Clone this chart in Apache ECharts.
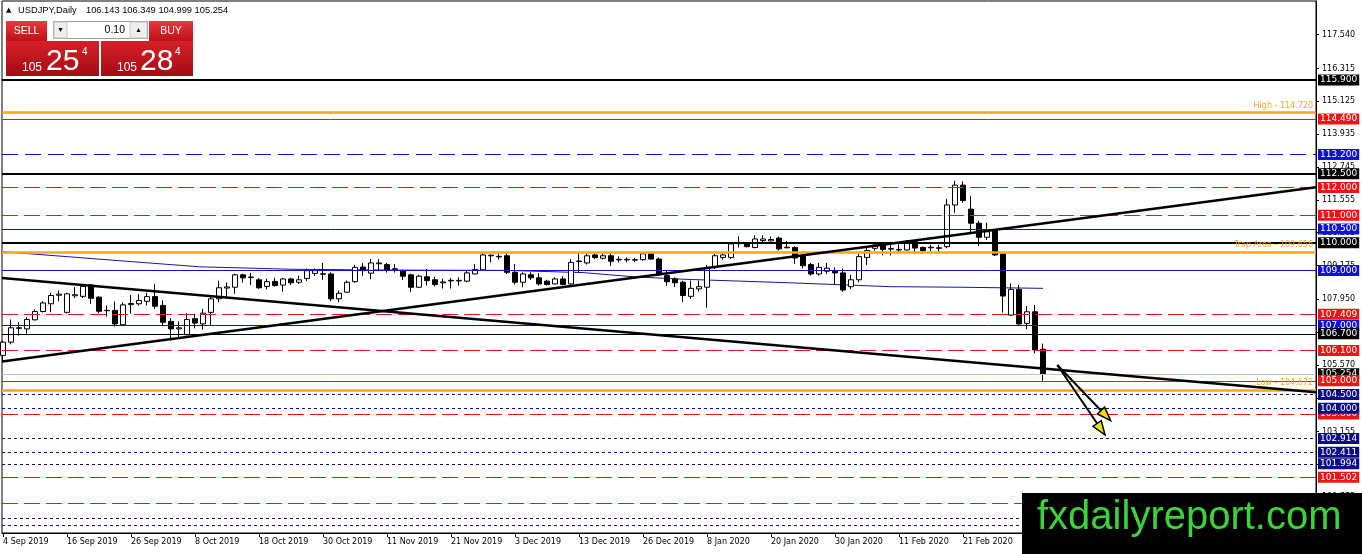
<!DOCTYPE html>
<html><head><meta charset="utf-8">
<script src="https://cdn.jsdelivr.net/npm/echarts@6/dist/echarts.min.js"></script>
<style>html,body{margin:0;padding:0;background:#fff;}#c{width:1362px;height:554px;}</style>
</head><body><div id="c"></div>
<script>
// ---------------- DATA ----------------
const symbolTitle = 'USDJPY,Daily';
const headerOHLC = ['106.143', '106.349', '104.999', '105.254'];
const bidParts = ['105', '25', '4'];
const askParts = ['105', '28', '4'];
const lotSize = '0.10';
const watermarkText = 'fxdailyreport.com';

// one candle per trading day, index 0 = 4 Sep 2019 ... index 130 = 6 Mar 2020
const opens = [105.92,106.40,106.90,106.88,107.21,107.51,107.79,108.10,107.48,108.08,108.06,108.47,108.03,107.54,107.55,107.03,107.76,107.79,107.88,108.05,107.73,107.15,106.88,106.67,107.25,107.06,107.48,107.97,108.36,108.39,108.84,108.74,108.66,108.42,108.60,108.47,108.69,108.57,108.71,108.89,108.86,108.87,107.97,108.21,108.59,109.12,108.90,109.24,109.21,109.04,108.99,108.84,108.39,108.77,108.66,108.55,108.62,108.62,108.61,108.87,109.02,109.53,109.49,109.53,108.93,108.57,108.84,108.73,108.61,108.51,108.69,108.51,109.32,109.27,109.56,109.44,109.53,109.38,109.38,109.37,109.39,109.60,109.41,108.81,108.69,108.57,108.06,108.33,108.39,109.11,109.47,109.47,109.97,109.96,109.83,110.08,110.07,110.17,109.82,109.83,109.53,109.21,108.87,108.97,108.99,108.91,108.41,108.66,109.47,109.80,109.95,109.77,109.74,109.74,110.05,109.83,109.82,109.80,109.86,111.37,112.09,111.22,110.71,110.20,110.46,109.59,107.38,108.31,107.08,107.50,106.143];
const closes = [106.40,106.92,106.92,107.22,107.51,107.82,108.09,108.14,108.15,108.12,108.42,107.99,107.52,107.55,107.06,107.75,107.80,107.91,108.05,107.70,107.12,106.88,106.92,107.22,107.09,107.45,107.97,108.37,108.40,108.84,108.73,108.76,108.37,108.59,108.45,108.69,108.55,108.66,108.99,108.99,108.88,107.97,108.17,108.57,109.11,108.99,109.27,109.27,109.02,109.06,108.79,108.39,108.79,108.63,108.49,108.58,108.64,108.64,108.91,109.03,109.56,109.55,109.51,108.93,108.57,108.87,108.73,108.51,108.49,108.69,108.49,109.29,109.34,109.53,109.47,109.53,109.33,109.40,109.40,109.39,109.60,109.41,108.84,108.59,108.55,108.09,108.35,108.41,109.11,109.53,109.56,109.96,109.99,109.86,110.14,110.14,110.12,109.78,109.84,109.45,109.17,108.87,109.11,109.08,108.91,108.29,108.66,109.50,109.72,109.92,109.76,109.79,109.76,110.05,109.81,109.72,109.84,109.82,111.37,112.09,111.53,110.71,110.20,110.40,109.56,108.07,108.31,107.06,107.50,106.12,105.254];
const lows = [105.75,106.32,106.64,106.70,107.18,107.47,107.48,107.88,107.44,108.00,108.00,107.79,107.45,107.33,106.97,106.98,107.43,107.73,107.73,107.61,107.02,106.46,106.52,106.64,106.90,106.85,106.98,107.85,107.97,108.15,108.56,108.47,108.33,108.31,108.41,108.23,108.47,108.51,108.62,108.80,108.66,107.88,107.85,108.19,108.55,108.80,108.68,108.97,108.92,108.92,108.65,108.21,108.37,108.45,108.42,108.34,108.34,108.45,108.57,108.86,108.99,109.29,109.39,108.87,108.49,108.39,108.65,108.45,108.45,108.49,108.45,108.45,108.93,109.21,109.41,109.39,109.16,109.29,109.29,109.29,109.35,109.39,108.81,108.45,108.40,107.85,107.97,108.23,107.65,109.05,109.39,109.41,109.83,109.83,109.80,110.02,110.05,109.72,109.80,109.24,109.07,108.81,108.81,108.87,108.48,108.22,108.33,108.57,109.20,109.72,109.54,109.54,109.65,109.72,109.60,109.66,109.69,109.65,109.80,111.09,111.45,110.34,109.88,110.10,109.52,107.47,107.35,107.03,106.87,105.99,104.999];
const highs = [106.45,107.22,107.12,107.30,107.58,107.88,108.19,108.27,108.19,108.39,108.46,108.51,108.06,107.73,107.87,107.84,108.11,108.14,108.19,108.51,107.91,107.27,107.15,107.45,107.43,107.61,108.03,108.63,108.56,108.88,108.88,108.91,108.72,108.70,108.73,108.73,108.73,108.81,109.06,109.07,109.27,108.93,108.27,108.63,109.20,109.26,109.41,109.41,109.27,109.23,109.02,108.88,108.84,109.05,108.77,108.70,108.72,108.75,109.00,109.23,109.66,109.58,109.66,109.62,109.23,108.93,108.93,108.90,108.66,108.75,108.79,109.41,109.62,109.62,109.62,109.62,109.62,109.51,109.47,109.45,109.62,109.62,109.47,108.99,108.75,108.62,108.63,108.63,109.20,109.60,109.66,110.00,110.23,110.02,110.27,110.27,110.23,110.23,110.07,109.88,109.60,109.27,109.27,109.27,109.11,109.07,108.84,109.60,109.84,109.98,110.00,109.98,109.94,110.10,110.11,109.87,109.93,109.93,111.58,112.25,112.23,111.70,110.80,110.73,110.49,109.64,108.53,108.47,107.71,107.75,106.349];

// moving average, read at a few bars: [bar index, price]
const maIndex = [-0.125, 14.6, 24.6, 36.25, 49.6, 63, 72.5, 78.75, 85, 98.4, 110.9, 119.6, 130];
const maValue = [109.68, 109.35, 109.13, 109.04, 109.01, 109.00, 108.92, 108.77, 108.68, 108.55, 108.41, 108.39, 108.35];

// trend lines: [bar index, price] end points
const trendFalling = [[-0.125, 108.728], [164.125, 104.58]];
const trendRising = [[-0.125, 105.702], [164.125, 112.01]];

// projection arrows: common start and two targets [bar index, price]
const arrowStart = [131.79, 105.572];
const arrowTargets = [[138.46, 103.553], [137.75, 103.035]];

// x-axis labels
const dateLabelIndex = [0, 8, 16, 24, 32, 40, 48, 56, 64, 72, 80, 88, 96, 104, 112, 120];
const dateLabels = ['4 Sep 2019', '16 Sep 2019', '26 Sep 2019', '8 Oct 2019', '18 Oct 2019', '30 Oct 2019', '11 Nov 2019', '21 Nov 2019', '3 Dec 2019', '13 Dec 2019', '26 Dec 2019', '8 Jan 2020', '20 Jan 2020', '30 Jan 2020', '11 Feb 2020', '21 Feb 2020'];

// y-axis scale labels
const priceTicks = [100.775, 101.965, 103.155, 104.380, 105.570, 106.760, 107.950, 109.175, 110.365, 111.555, 112.745, 113.935, 115.125, 116.315, 117.540];

// horizontal levels
const bidLevel = [105.254];
const blueLevels = [110.500, 109.000, 107.000];
const blueDashedLevels = [113.200];
const redSolidLevels = [114.490, 105.000];
const redDashedLevels = [112.000, 111.000, 107.409, 106.100, 103.800, 101.502, 100.570];
const navyDottedLevels = [104.500, 104.000, 102.914, 102.411, 101.994, 100.030, 99.770];
const blackHeavyLevels = [115.900, 112.500, 110.000];
const blackThinLevels = [106.700];
const namedLevelNames = ['High', 'Trap Area', 'Low'];
const namedLevelValues = [114.720, 109.656, 104.672];

// ---------------- CHART ----------------
const AXF = 'DejaVu Sans';
const RED = '#ee1414', BLUE = '#1010d8', NAVY = '#0c0c88', ORANGE = '#f5a52a';

const candleData = opens.map((o, i) => [i, o, closes[i], lows[i], highs[i]]);
const maData = maIndex.map((x, i) => [x, maValue[i]]);

function boxItem(v, lineStyle, bg) {
  return {
    yAxis: v,
    lineStyle: lineStyle,
    label: {
      show: true, position: 'end', distance: 2,
      formatter: v.toFixed(3), color: '#fff', backgroundColor: bg,
      padding: [1, 2, 0, 2], fontFamily: AXF, fontSize: 9, lineHeight: 10
    }
  };
}
const levelItems = [];
bidLevel.forEach(v => levelItems.push(boxItem(v, {color: '#c0c0c0', width: 1, type: 'solid'}, '#000')));
blueLevels.forEach(v => levelItems.push(boxItem(v, {color: BLUE, width: 1, type: 'solid'}, BLUE)));
blueDashedLevels.forEach(v => levelItems.push(boxItem(v, {color: BLUE, width: 1, type: [16, 7]}, BLUE)));
redSolidLevels.forEach(v => levelItems.push(boxItem(v, {color: RED, width: 1, type: 'solid'}, RED)));
redDashedLevels.forEach(v => levelItems.push(boxItem(v, {color: RED, width: 1, type: [16, 6]}, RED)));
navyDottedLevels.forEach(v => levelItems.push(boxItem(v, {color: NAVY, width: 1, type: [3, 3]}, NAVY)));
blackHeavyLevels.forEach(v => levelItems.push(boxItem(v, {color: '#000', width: 2, type: 'solid'}, '#000')));
blackThinLevels.forEach(v => levelItems.push(boxItem(v, {color: '#000', width: 1, type: 'solid'}, '#000')));
namedLevelValues.forEach((v, i) => levelItems.push({
  yAxis: v,
  lineStyle: {color: ORANGE, width: 2.5, type: 'solid'},
  label: {
    show: true, position: 'insideEndTop', distance: 3,
    formatter: namedLevelNames[i] + ' - ' + v.toFixed(3),
    color: ORANGE, fontFamily: AXF, fontSize: 8
  }
}));

const redGrad = () => new echarts.graphic.LinearGradient(0, 0, 0, 1, [
  {offset: 0, color: '#e8383c'}, {offset: 1, color: '#c01018'}]);
const bigGrad = () => new echarts.graphic.LinearGradient(0, 0, 0, 1, [
  {offset: 0, color: '#d62128'}, {offset: 1, color: '#a50b14'}]);
const LS = 'Liberation Sans';
function txt(x, y, t, size, fill, align, family, z) {
  return {type: 'text', x: x, y: y, z: z || 101, silent: true,
    style: {text: t, fill: fill, fontSize: size, fontFamily: family || LS, align: align || 'left', verticalAlign: 'middle'}};
}
function rect(x, y, w, h, fill, stroke, z) {
  return {type: 'rect', z: z || 100, silent: true, shape: {x: x, y: y, width: w, height: h},
    style: {fill: fill, stroke: stroke || null, lineWidth: 1}};
}

const graphics = [
  txt(6, 10, '▲', 7, '#000', 'left', AXF),
  txt(18, 10, symbolTitle, 9.3, '#000'),
  txt(86, 10, headerOHLC.join(' '), 9.3, '#000'),
  // one-click panel
  rect(6, 21, 41, 20, redGrad()),
  txt(26.5, 31.4, 'SELL', 10.5, '#fff', 'center'),
  rect(149, 21, 44, 20, redGrad()),
  txt(171, 31.4, 'BUY', 10.5, '#fff', 'center'),
  rect(53.5, 21.5, 94, 17, '#fff', '#9a9a9a'),
  rect(54, 22, 13, 16, '#eeeeee', '#c8c8c8'),
  rect(130, 22, 17, 16, '#eeeeee', '#c8c8c8'),
  txt(60.5, 29.5, '▾', 8, '#000', 'center', AXF),
  txt(138.5, 29.5, '▴', 8, '#000', 'center', AXF),
  txt(125, 30.5, lotSize, 10.5, '#000', 'right'),
  rect(6, 41, 93, 35, bigGrad()),
  rect(101, 41, 92, 35, bigGrad()),
  txt(22, 67.5, bidParts[0], 12, '#fff'),
  txt(46, 61.3, bidParts[1], 30, '#fff'),
  txt(82, 52.5, bidParts[2], 10, '#fff'),
  txt(117, 67.5, askParts[0], 12, '#fff'),
  txt(140, 61.3, askParts[1], 30, '#fff'),
  txt(175, 52.5, askParts[2], 10, '#fff'),
  // watermark
  rect(1022, 493, 340, 61, '#000', null, 200),
  txt(1037, 518, watermarkText, 40, '#3ad43a', 'left', LS, 201)
];

const chart = echarts.init(document.getElementById('c'), null, {renderer: 'canvas'});
chart.setOption({
  animation: false,
  backgroundColor: '#fff',
  grid: {left: 2, right: 46, top: 1, bottom: 21, show: true, borderColor: '#000', borderWidth: 1, backgroundColor: '#fff'},
  xAxis: {
    type: 'value', min: -0.125, max: 164.125,
    axisLine: {show: true, onZero: false, lineStyle: {color: '#000', width: 1}},
    axisTick: {show: true, customValues: dateLabelIndex, length: 4, lineStyle: {color: '#000'}},
    axisLabel: {
      show: true, customValues: dateLabelIndex,
      formatter: v => { const k = dateLabelIndex.indexOf(Math.round(v)); return k >= 0 ? dateLabels[k] : ''; },
      align: 'left', margin: 5, fontFamily: AXF, fontSize: 8, color: '#000'
    },
    splitLine: {show: false}
  },
  yAxis: {
    type: 'value', position: 'right', min: 99.483, max: 118.763,
    axisLine: {show: true, onZero: false, lineStyle: {color: '#000', width: 1}},
    axisTick: {show: true, customValues: priceTicks, length: 3, lineStyle: {color: '#000'}},
    axisLabel: {
      show: true, customValues: priceTicks, formatter: v => Number(v).toFixed(3),
      margin: 6, fontFamily: AXF, fontSize: 8, color: '#000'
    },
    splitLine: {show: false}
  },
  series: [
    {
      name: 'MA', type: 'line', data: maData, showSymbol: false, symbol: 'none',
      lineStyle: {color: '#16169a', width: 1}, z: 2, silent: true
    },
    {
      name: 'USDJPY', type: 'candlestick', data: candleData,
      encode: {x: 0, y: [1, 2, 3, 4]},
      barWidth: 5,
      itemStyle: {color: '#fff', color0: '#000', borderColor: '#000', borderColor0: '#000', borderWidth: 1},
      z: 3, silent: true
    },
    {
      name: 'levels', type: 'line', data: [], z: 4, silent: true,
      markLine: {silent: true, symbol: ['none', 'none'], animation: false, data: levelItems}
    },
    {
      name: 'trendFalling', type: 'line', data: trendFalling, showSymbol: false, symbol: 'none',
      lineStyle: {color: '#000', width: 2.5}, z: 5, silent: true
    },
    {
      name: 'trendRising', type: 'line', data: trendRising, showSymbol: false, symbol: 'none',
      lineStyle: {color: '#000', width: 2.5}, z: 5, silent: true
    },
    {
      name: 'arrows', type: 'custom', z: 6, silent: true,
      data: arrowTargets.map(t => [arrowStart[0], arrowStart[1], t[0], t[1]]),
      encode: {x: [0, 2], y: [1, 3]},
      renderItem: (params, api) => {
        const p0 = api.coord([api.value(0), api.value(1)]);
        const p1 = api.coord([api.value(2), api.value(3)]);
        const dx = p1[0] - p0[0], dy = p1[1] - p0[1];
        const L = Math.hypot(dx, dy), ux = dx / L, uy = dy / L;
        const hl = 14, hw = 5;
        const bx = p1[0] - ux * hl, by = p1[1] - uy * hl;
        const nx = -uy, ny = ux;
        return {type: 'group', children: [
          {type: 'line', shape: {x1: p0[0], y1: p0[1], x2: p1[0] - ux * 3, y2: p1[1] - uy * 3}, style: {stroke: '#000', lineWidth: 2}},
          {type: 'polygon', shape: {points: [[p1[0], p1[1]], [bx + nx * hw, by + ny * hw], [bx - nx * hw, by - ny * hw]]},
           style: {fill: '#e4e400', stroke: '#000', lineWidth: 1.5}}
        ]};
      }
    }
  ],
  graphic: graphics
});
</script>
</body></html>
